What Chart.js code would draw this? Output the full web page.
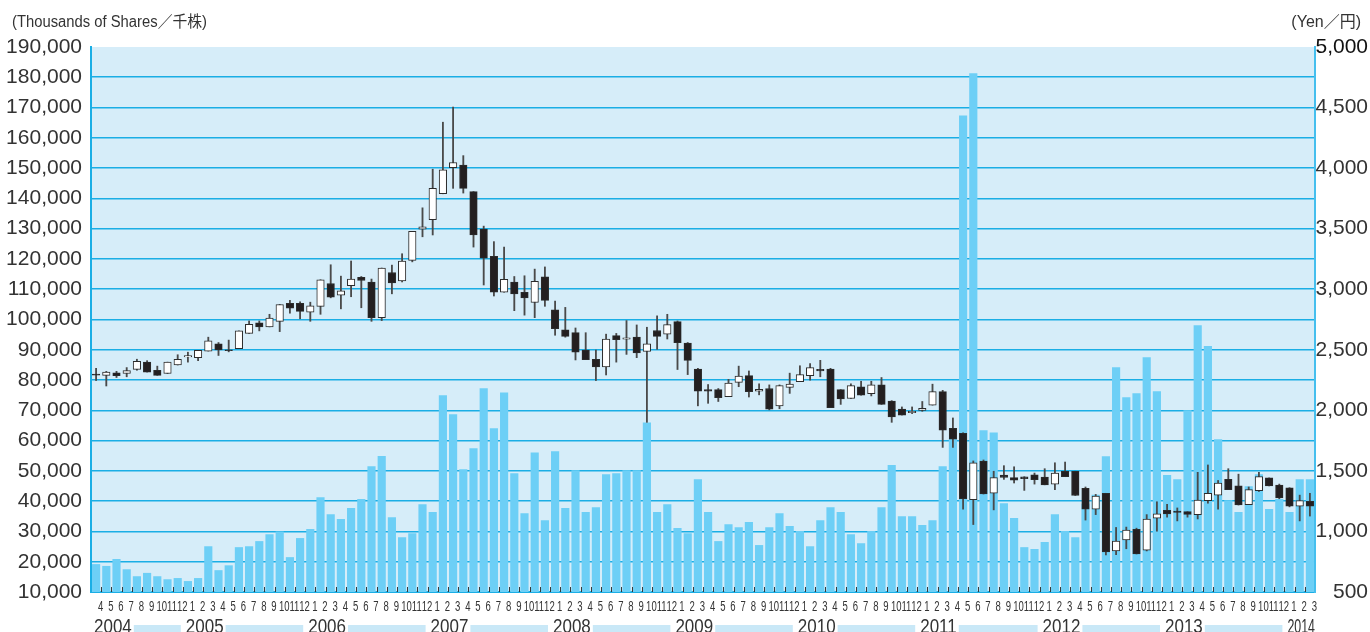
<!DOCTYPE html>
<html>
<head>
<meta charset="utf-8">
<title>Stock Price and Trading Volume</title>
<script src="https://cdn.jsdelivr.net/npm/chart.js@4.4.1/dist/chart.umd.min.js"></script>
<style>
  html, body { margin: 0; padding: 0; background: #fff; }
  #wrap { width: 1370px; height: 632px; }
</style>
</head>
<body>
<div id="wrap"><canvas id="chart" width="1370" height="632"></canvas></div>
<script>
/* ---------- Data ---------- */
// months, Apr 2004 - Mar 2014
const months = [
  '4', '5', '6', '7', '8', '9', '10', '11', '12',
  '1', '2', '3', '4', '5', '6', '7', '8', '9', '10', '11', '12',
  '1', '2', '3', '4', '5', '6', '7', '8', '9', '10', '11', '12',
  '1', '2', '3', '4', '5', '6', '7', '8', '9', '10', '11', '12',
  '1', '2', '3', '4', '5', '6', '7', '8', '9', '10', '11', '12',
  '1', '2', '3', '4', '5', '6', '7', '8', '9', '10', '11', '12',
  '1', '2', '3', '4', '5', '6', '7', '8', '9', '10', '11', '12',
  '1', '2', '3', '4', '5', '6', '7', '8', '9', '10', '11', '12',
  '1', '2', '3', '4', '5', '6', '7', '8', '9', '10', '11', '12',
  '1', '2', '3', '4', '5', '6', '7', '8', '9', '10', '11', '12',
  '1', '2', '3'
];
const years = ['2004', '2005', '2006', '2007', '2008', '2009', '2010', '2011', '2012', '2013', '2014'];

// monthly volume, thousands of shares
const volume = [
  19100, 18500, 20800, 17400, 15100, 16200, 15100, 14100, 14500,
  13500, 14500, 25000, 17100, 18700, 24700, 25000, 26700, 29000, 29900, 21400, 27700,
  30700, 41200, 35600, 34000, 37600, 40600, 51400, 54800, 34600, 28000, 29300, 38900,
  36300, 74900, 68600, 50400, 57400, 77200, 64000, 75800, 49100, 35900, 56000, 33600,
  56400, 37600, 50100, 36300, 37900, 48800, 49100, 50100, 50100, 65900, 36300, 38900,
  31000, 29300, 47100, 36300, 26700, 32300, 31300, 33000, 25400, 31300, 35900, 31700,
  30000, 25000, 33600, 37900, 36300, 29000, 26000, 30000, 37900, 51800, 34900, 34900,
  32000, 33600, 51400, 60500, 167300, 181200, 63300, 62600, 39200, 34300, 24700, 24100,
  26400, 35600, 30000, 28000, 39000, 42000, 54700, 84100, 74200, 75500, 87400, 76200,
  48500, 47100, 69900, 98000, 91100, 60300, 40200, 36300, 44800, 48800, 37300, 40600,
  36300, 47100, 47100
];

// monthly share price, yen
const open = [
  2300, 2289, 2310, 2304, 2338, 2398, 2331, 2304, 2374,
  2440, 2435, 2489, 2550, 2500, 2510, 2635, 2723, 2689, 2735, 2884, 2884,
  2811, 2859, 3047, 2950, 3029, 3099, 3059, 2765, 3138, 3069, 3238, 3496,
  3575, 3788, 4003, 4024, 3806, 3496, 3272, 2975, 3059, 2975, 2890, 3102,
  2829, 2665, 2641, 2498, 2422, 2359, 2617, 2588, 2604, 2486, 2659, 2629,
  2732, 2556, 2341, 2171, 2171, 2113, 2231, 2286, 2158, 2180, 2037, 2189,
  2237, 2286, 2338, 2341, 2171, 2098, 2195, 2137, 2210, 2077, 2010, 1980,
  2000, 2043, 2155, 1852, 1810, 1263, 1582, 1315, 1465, 1445, 1450, 1467,
  1449, 1391, 1497, 1497, 1357, 1184, 1315, 839, 930, 1018, 845, 1109,
  1175, 1169, 1163, 1139, 1254, 1300, 1430, 1376, 1221, 1336, 1442, 1382,
  1361, 1209, 1248
];
const high = [
  2347, 2322, 2322, 2353, 2422, 2410, 2365, 2398, 2459,
  2480, 2495, 2604, 2560, 2580, 2656, 2738, 2738, 2793, 2874, 2908, 2896,
  2893, 3078, 3202, 3108, 3233, 3105, 3084, 3175, 3199, 3293, 3478, 3672,
  3991, 4379, 4504, 4103, 3806, 3521, 3393, 3348, 3105, 3111, 3166, 3184,
  2902, 2850, 2680, 2641, 2498, 2629, 2635, 2741, 2705, 2686, 2780, 2793,
  2738, 2560, 2347, 2213, 2180, 2256, 2365, 2325, 2219, 2210, 2210, 2307,
  2368, 2386, 2413, 2347, 2171, 2219, 2240, 2240, 2271, 2080, 2028, 2028,
  2073, 2216, 2165, 1937, 1815, 1582, 1590, 1497, 1543, 1534, 1452, 1482,
  1518, 1567, 1573, 1497, 1367, 1306, 1315, 1033, 1036, 1027, 1139, 1245,
  1224, 1194, 1163, 1488, 1549, 1421, 1518, 1473, 1367, 1488, 1442, 1391,
  1361, 1300, 1315
];
const low = [
  2246, 2201, 2271, 2277, 2331, 2316, 2289, 2304, 2374,
  2398, 2410, 2489, 2453, 2483, 2510, 2635, 2656, 2689, 2650, 2802, 2756,
  2735, 2793, 2929, 2838, 2938, 2847, 2735, 2741, 2962, 3060, 3226, 3433,
  3448, 3788, 3833, 3794, 3348, 3035, 2944, 2975, 2823, 2786, 2765, 2859,
  2620, 2604, 2416, 2419, 2246, 2292, 2398, 2462, 2435, 1901, 2504, 2589,
  2337, 2295, 2037, 2058, 2073, 2113, 2195, 2110, 2128, 2004, 2013, 2140,
  2237, 2249, 2277, 2022, 2049, 2098, 2125, 2119, 2049, 1901, 1961, 1973,
  1992, 2043, 1694, 1694, 1184, 1057, 1309, 1178, 1430, 1400, 1339, 1391,
  1385, 1345, 1452, 1297, 1094, 1139, 806, 808, 857, 814, 839, 1002,
  1118, 1087, 1118, 1103, 1233, 1184, 1345, 1218, 1221, 1330, 1376, 1270,
  1203, 1087, 1127
];
const close = [
  2290, 2316, 2286, 2328, 2404, 2316, 2289, 2398, 2422,
  2452, 2495, 2574, 2498, 2492, 2656, 2711, 2689, 2762, 2874, 2844, 2817,
  2862, 3078, 2935, 2987, 3084, 3072, 2765, 3175, 3053, 3233, 3478, 3515,
  3833, 3985, 4046, 3833, 3448, 3257, 2975, 3081, 2962, 2929, 3066, 2908,
  2674, 2611, 2480, 2419, 2359, 2589, 2583, 2598, 2474, 2550, 2611, 2708,
  2559, 2413, 2158, 2158, 2104, 2225, 2283, 2155, 2174, 2010, 2204, 2216,
  2295, 2353, 2326, 2022, 2095, 2204, 2125, 2210, 2049, 1946, 1961, 1992,
  2016, 2155, 1837, 1761, 1270, 1567, 1309, 1445, 1447, 1423, 1435, 1427,
  1385, 1482, 1452, 1297, 1184, 1291, 830, 921, 1012, 814, 1103, 1145,
  1145, 1157, 1141, 1260, 1315, 1400, 1345, 1218, 1345, 1452, 1376, 1276,
  1209, 1254, 1209
];

/* ---------- Styles ---------- */
const FONT = '"Liberation Sans Narrow", "Arial Narrow", "Liberation Sans", sans-serif';
const CJK = '"Liberation Sans", "Noto Sans CJK JP", sans-serif';
const PLOT_BG = '#d6edf9';
const GRID = '#1aaee5';
const VOL_COLOR = '#6dcff6';
const TEXT = '#333333';

Chart.defaults.font.family = FONT;

// candle bodies go open -> close, wicks low -> high
const bodies = open.map((o, i) => [o, close[i]]);
const wicks = low.map((l, i) => [l, high[i]]);
const bodyColors = open.map((o, i) => close[i] >= o ? '#ffffff' : '#231f20');

// draws text squeezed horizontally (the print face is a condensed one)
function narrowText(ctx, text, x, y, sx) {
  ctx.save();
  ctx.translate(x, y);
  ctx.scale(sx, 1);
  ctx.fillText(text, 0, 0);
  ctx.restore();
}

/* ---------- Plugins ---------- */
const plotBackground = {
  id: 'plotBackground',
  beforeDraw(chart) {
    const { ctx, chartArea: a } = chart;
    ctx.save();
    ctx.fillStyle = PLOT_BG;
    ctx.fillRect(a.left, a.top, a.right - a.left, a.bottom - a.top);
    ctx.restore();
  }
};

// small ticks between months along the bottom edge
const monthTicks = {
  id: 'monthTicks',
  afterDatasetsDraw(chart) {
    const { ctx, chartArea: a, scales: { x } } = chart;
    const half = (x.getPixelForValue(1) - x.getPixelForValue(0)) / 2;
    ctx.save();
    ctx.strokeStyle = '#3a3a3a';
    ctx.lineWidth = 1;
    ctx.beginPath();
    for (let i = 1; i < months.length; i++) {
      const px = Math.round(x.getPixelForValue(i) - half) + 0.5;
      ctx.moveTo(px, a.bottom - 5);
      ctx.lineTo(px, a.bottom);
    }
    ctx.stroke();
    ctx.restore();
  }
};

// month labels, unit captions and the year row
const captions = {
  id: 'captions',
  afterDraw(chart) {
    const { ctx, scales: { x } } = chart;
    const half = (x.getPixelForValue(1) - x.getPixelForValue(0)) / 2;
    ctx.save();
    ctx.fillStyle = TEXT;
    ctx.textBaseline = 'alphabetic';

    // month numbers
    ctx.font = '14px ' + FONT;
    ctx.textAlign = 'center';
    months.forEach((m, i) => {
      narrowText(ctx, m, x.getPixelForValue(i) + 4.5, 611, 0.68);
    });

    // units
    ctx.font = '16px ' + CJK;
    ctx.textAlign = 'left';
    ctx.fillText('(Thousands of Shares／千株)', 12, 27, 195);
    ctx.textAlign = 'right';
    ctx.fillText('(Yen／円)', 1361, 27);

    // first and last month index of every year
    const spans = [];
    let y = 0;
    months.forEach((m, i) => {
      if (i > 0 && m === '1') y++;
      if (!spans[y]) spans[y] = { first: i, last: i };
      spans[y].last = i;
    });

    ctx.font = '20px ' + FONT;
    ctx.textAlign = 'left';
    spans.forEach((s, k) => {
      const x0 = x.getPixelForValue(s.first) - half;
      const x1 = x.getPixelForValue(s.last) + half;
      const room = x1 - x0 - 3;
      const sx = Math.min(0.85, room / ctx.measureText(years[k]).width);
      const w = ctx.measureText(years[k]).width * sx;
      const stripL = x0 + 3 + w + 2;
      const stripR = x1 - 2;
      if (stripR > stripL) {
        ctx.fillStyle = '#c9e8f7';
        ctx.fillRect(stripL, 625, stripR - stripL, 7);
      }
      ctx.fillStyle = TEXT;
      narrowText(ctx, years[k], x0 + 3, 633, sx);
    });
    ctx.restore();
  }
};

/* ---------- Chart ---------- */
new Chart(document.getElementById('chart'), {
  type: 'bar',
  data: {
    labels: months,
    datasets: [
      {
        label: 'Share price',
        data: bodies,
        yAxisID: 'yPrice',
        backgroundColor: bodyColors,
        borderColor: '#2b2b2b',
        borderWidth: 1,
        borderSkipped: false,
        barThickness: 7.5,
        grouped: false,
        order: 1
      },
      {
        label: 'High / Low',
        data: wicks,
        yAxisID: 'yPrice',
        backgroundColor: '#4a4a4a',
        borderWidth: 0,
        barThickness: 1.2,
        grouped: false,
        order: 2
      },
      {
        label: 'Volume',
        data: volume,
        yAxisID: 'yVol',
        backgroundColor: VOL_COLOR,
        borderWidth: 0,
        barThickness: 7.5,
        grouped: false,
        order: 3
      }
    ]
  },
  options: {
    responsive: false,
    animation: false,
    devicePixelRatio: 1,
    layout: { padding: { top: 47, right: 2, bottom: 18, left: 0 } },
    plugins: {
      legend: { display: false },
      tooltip: { enabled: false }
    },
    scales: {
      x: {
        offset: true,
        grid: { display: true, drawOnChartArea: false, drawTicks: false },
        border: { display: true, color: GRID, width: 2 },
        ticks: { display: false },
        afterFit: (s) => { s.height = 22; }
      },
      yVol: {
        position: 'left',
        min: 10000,
        max: 190000,
        ticks: {
          stepSize: 10000,
          padding: 9,
          color: TEXT,
          font: { size: 21 },
          callback: (v) => v.toLocaleString('en-US')
        },
        grid: {
          color: (c) => c.tick && c.tick.value === 190000 ? 'rgba(0,0,0,0)' : GRID,
          lineWidth: 1.6,
          drawTicks: false
        },
        border: { display: true, color: GRID, width: 2 },
        afterFit: (s) => { s.width = 91; }
      },
      yPrice: {
        position: 'right',
        min: 500,
        max: 5000,
        ticks: {
          stepSize: 500,
          padding: 0,
          crossAlign: 'far',
          color: (c) => c.tick && c.tick.value === 5000 ? '#111111' : TEXT,
          font: { size: 21 },
          callback: (v) => v.toLocaleString('en-US')
        },
        grid: { display: false, drawTicks: false },
        border: { display: true, color: '#45bfee', width: 2 },
        afterFit: (s) => { s.width = 53; }
      }
    }
  },
  plugins: [plotBackground, monthTicks, captions]
});
</script>
</body>
</html>
